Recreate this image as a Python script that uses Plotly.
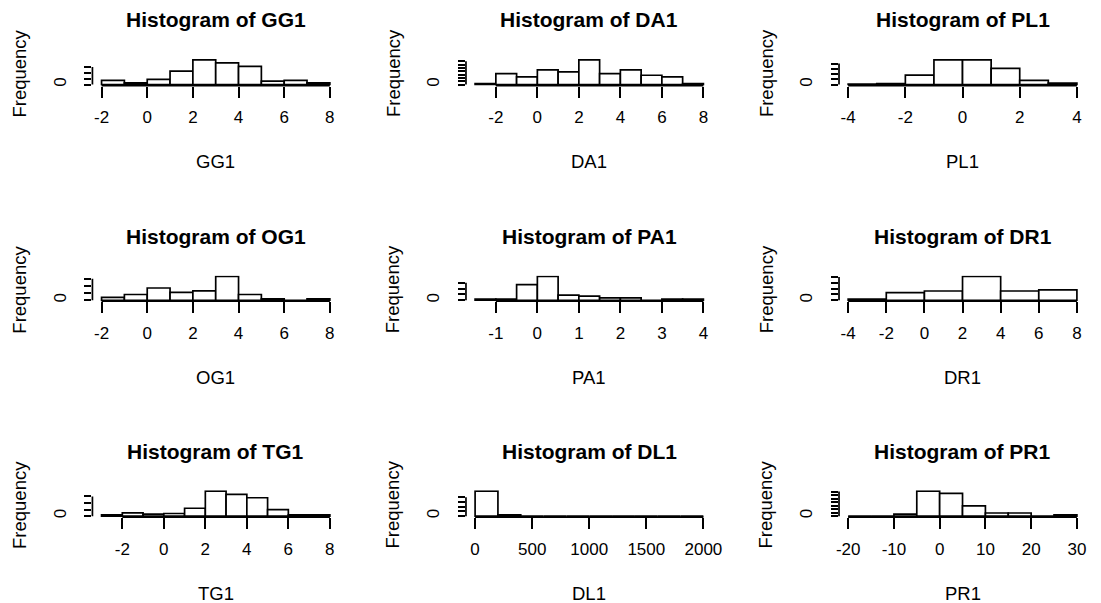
import plotly.graph_objects as go

W, H = 1101, 603

# ---------------- data ----------------
names = ["GG1", "DA1", "PL1", "OG1", "PA1", "DR1", "TG1", "DL1", "PR1"]

gg1_breaks = [-2, -1, 0, 1, 2, 3, 4, 5, 6, 7, 8]
gg1_counts = [7, 3, 9, 23, 42, 37, 31, 6, 7, 3]
gg1_xticks = [-2, 0, 2, 4, 6, 8]
gg1_yticks = [0, 10, 20, 30]

da1_breaks = [-3, -2, -1, 0, 1, 2, 3, 4, 5, 6, 7, 8]
da1_counts = [3, 33, 23, 44, 38, 74, 33, 44, 28, 23, 3]
da1_xticks = [-2, 0, 2, 4, 6, 8]
da1_yticks = [0, 10, 20, 30, 40, 50, 60, 70]

pl1_breaks = [-4, -3, -2, -1, 0, 1, 2, 3, 4]
pl1_counts = [1, 2, 18, 47, 47, 31, 8, 3]
pl1_xticks = [-4, -2, 0, 2, 4]
pl1_yticks = [0, 10, 20, 30, 40]

og1_breaks = [-2, -1, 0, 1, 2, 3, 4, 5, 6, 7, 8]
og1_counts = [4, 8, 17, 11, 13, 33, 8, 2, 0, 2]
og1_xticks = [-2, 0, 2, 4, 6, 8]
og1_yticks = [0, 10, 20, 30]

pa1_breaks = [-1.5, -1, -0.5, 0, 0.5, 1, 1.5, 2, 2.5, 3, 3.5, 4]
pa1_counts = [2, 2, 27, 41, 9, 7, 4, 4, 0, 2, 2]
pa1_xticks = [-1, 0, 1, 2, 3, 4]
pa1_yticks = [0, 10, 20, 30]

dr1_breaks = [-4, -2, 0, 2, 4, 6, 8]
dr1_counts = [2, 13, 16, 41, 16, 18]
dr1_xticks = [-4, -2, 0, 2, 4, 6, 8]
dr1_yticks = [0, 10, 20, 30, 40]

tg1_breaks = [-3, -2, -1, 0, 1, 2, 3, 4, 5, 6, 7, 8]
tg1_counts = [2, 5, 3, 4, 12, 38, 33, 28, 10, 2, 2]
tg1_xticks = [-2, 0, 2, 4, 6, 8]
tg1_yticks = [0, 10, 20, 30]

dl1_breaks = [0, 200, 400, 600, 800, 1000, 1200, 1400, 1600, 1800, 2000]
dl1_counts = [53, 3, 0, 0, 0, 0, 0, 0, 0, 0]
dl1_xticks = [0, 500, 1000, 1500, 2000]
dl1_yticks = [0, 10, 20, 30, 40]

pr1_breaks = [-20, -15, -10, -5, 0, 5, 10, 15, 20, 25, 30]
pr1_counts = [0, 0, 6, 71, 65, 29, 9, 9, 0, 4]
pr1_xticks = [-20, -10, 0, 10, 20, 30]
pr1_yticks = [0, 10, 20, 30, 40, 50, 60, 70]

panels = [
    (gg1_breaks, gg1_counts, gg1_xticks, gg1_yticks),
    (da1_breaks, da1_counts, da1_xticks, da1_yticks),
    (pl1_breaks, pl1_counts, pl1_xticks, pl1_yticks),
    (og1_breaks, og1_counts, og1_xticks, og1_yticks),
    (pa1_breaks, pa1_counts, pa1_xticks, pa1_yticks),
    (dr1_breaks, dr1_counts, dr1_xticks, dr1_yticks),
    (tg1_breaks, tg1_counts, tg1_xticks, tg1_yticks),
    (dl1_breaks, dl1_counts, dl1_xticks, dl1_yticks),
    (pr1_breaks, pr1_counts, pr1_xticks, pr1_yticks),
]

# ---------------- layout geometry (pixels) ----------------
col_px = [(90.5, 340.0), (468.5, 718.0), (846.0, 1096.0)]
row_px = [(59.0, 85.7), (276.0, 301.7), (491.0, 518.0)]

FONT = "Liberation Sans, Arial, sans-serif"
TXT = 17
LAB = 18.5
TITLE = 21
LW = 1.7

fig = go.Figure()
layout = dict(
    width=W, height=H, autosize=False,
    margin=dict(l=0, r=0, t=0, b=0),
    paper_bgcolor="white", plot_bgcolor="white",
    showlegend=False,
    font=dict(family=FONT, size=TXT, color="black"),
)
annotations = []
shapes = []

for i, (name, (breaks, counts, xt, yt)) in enumerate(zip(names, panels)):
    r, c = divmod(i, 3)
    xl, xr = col_px[c]
    yt_px, yb_px = row_px[r]
    n = i + 1
    xa = "xaxis" if n == 1 else f"xaxis{n}"
    ya = "yaxis" if n == 1 else f"yaxis{n}"
    xref = "x" if n == 1 else f"x{n}"
    yref = "y" if n == 1 else f"y{n}"

    centers = [(a + b) / 2 for a, b in zip(breaks[:-1], breaks[1:])]
    widths = [b - a for a, b in zip(breaks[:-1], breaks[1:])]
    fig.add_trace(go.Bar(
        x=centers, y=counts, width=widths,
        marker=dict(color="white", line=dict(color="black", width=LW)),
        xaxis=xref, yaxis=yref, hoverinfo="skip", showlegend=False,
    ))

    span = breaks[-1] - breaks[0]
    xrange = [breaks[0] - 0.04 * span, breaks[-1] + 0.04 * span]
    ymax = max(counts)
    yrange = [-0.04 * ymax, 1.04 * ymax]

    layout[xa] = dict(
        domain=[xl / W, xr / W], anchor=yref, range=xrange,
        showgrid=False, zeroline=False, showline=False,
        ticks="outside", ticklen=11, tickwidth=LW, tickcolor="black",
        tickvals=xt, ticktext=[f"{v:g}" for v in xt],
        tickfont=dict(family=FONT, size=TXT, color="black"),
        ticklabelstandoff=5, fixedrange=True,
    )
    layout[ya] = dict(
        domain=[1 - yb_px / H, 1 - yt_px / H], anchor=xref, range=yrange,
        showgrid=False, zeroline=False, showline=False,
        ticks="outside", ticklen=7, tickwidth=LW, tickcolor="black",
        tickvals=yt, ticktext=[f"{v:g}" if j == 0 else "" for j, v in enumerate(yt)],
        tickangle=-90,
        tickfont=dict(family=FONT, size=TXT, color="black"),
        ticklabelstandoff=12, fixedrange=True,
    )

    # R-style axis lines spanning first..last tick
    shapes.append(dict(type="line", xref=xref, yref=f"{yref} domain",
                       x0=xt[0], x1=xt[-1], y0=0, y1=0,
                       line=dict(color="black", width=LW)))
    shapes.append(dict(type="line", xref=f"{xref} domain", yref=yref,
                       x0=0, x1=0, y0=yt[0], y1=yt[-1],
                       line=dict(color="black", width=LW)))

    cx = (xl + xr) / 2
    cy = (yt_px + yb_px) / 2
    annotations.append(dict(text=f"Histogram of {name}", xref="paper", yref="paper",
                            x=cx / W, y=1 - (yt_px - 39) / H,
                            xanchor="center", yanchor="middle", showarrow=False,
                            font=dict(family=FONT, size=TITLE, color="black", weight="bold")))
    annotations.append(dict(text=name, xref="paper", yref="paper",
                            x=cx / W, y=1 - (yb_px + 76) / H,
                            xanchor="center", yanchor="middle", showarrow=False,
                            font=dict(family=FONT, size=LAB, color="black")))
    annotations.append(dict(text="Frequency", xref="paper", yref="paper",
                            x=(xl - 74) / W, y=1 - (cy + 1) / H, textangle=-90,
                            xanchor="center", yanchor="middle", showarrow=False,
                            font=dict(family=FONT, size=LAB, color="black")))

layout["annotations"] = annotations
layout["shapes"] = shapes
fig.update_layout(**layout)
fig.write_html("out.html")
